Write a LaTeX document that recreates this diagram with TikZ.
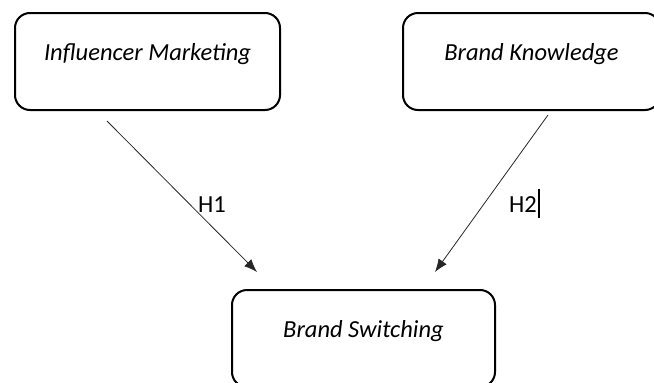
\documentclass[tikz,border=0pt]{standalone}
\usepackage{fontspec}
\setmainfont{Carlito}
\usetikzlibrary{arrows.meta}

\tikzset{
  factor/.style={draw, line width=2pt, rounded corners=15pt, minimum width=265pt, minimum height=97pt,
    inner sep=0pt, text height=14pt, text depth=17pt, font=\fontsize{24.5}{29}\selectfont\itshape},
  hyp/.style={draw=black!85, line width=0.8pt, -{Latex[length=13pt,width=10pt]}},
  hlabel/.style={inner sep=0pt, font=\fontsize{24.5}{29}\selectfont}
}

\begin{document}
\begin{tikzpicture}[x=1pt,y=-1pt]
\useasboundingbox (0,0) rectangle (654,383);
\clip (0,0) rectangle (654,383);

\def\boxw{265}
\def\boxh{97}

\node[factor] (im) at (147.5,61.5) {Influencer Marketing};
\node[factor, minimum width=257pt] (bk) at (531.5,61.5) {Brand Knowledge};
\node[factor, minimum width=263pt] (bs) at (363.5,338.5) {Brand Switching};

% free ends of the two paths
\coordinate (h1s) at (107,121);
\coordinate (h1e) at (257,272);
\coordinate (h2s) at (548,115);
\coordinate (h2e) at (435,272);

\draw[hyp] (h1s) -- (h1e);
\draw[hyp] (h2s) -- (h2e);

\node[hlabel] (h1) at (212,205) {H1};
\node[hlabel] (h2) at (523,205) {H2};
\draw[line width=1.2pt] ([xshift=2pt,yshift=8pt]h2.north east) -- ([xshift=2pt,yshift=-5pt]h2.south east);

\end{tikzpicture}
\end{document}
